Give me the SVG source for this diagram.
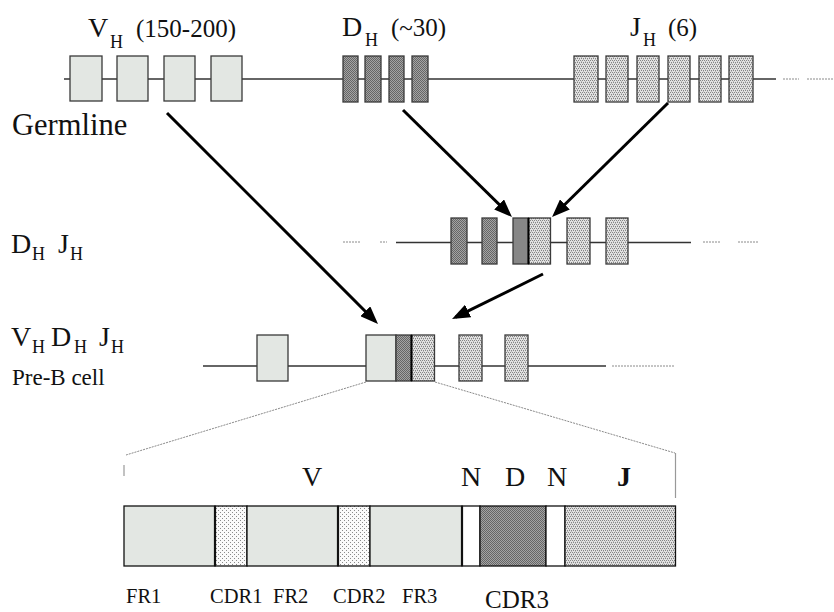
<svg xmlns="http://www.w3.org/2000/svg" width="834" height="612" viewBox="0 0 834 612" font-family="'Liberation Serif', 'DejaVu Serif', serif">
  <style>
    text { font-family: 'Liberation Serif', 'DejaVu Serif', serif; fill: #111; }
    .big { font-size: 28px; }
    .sub { font-size: 18px; }
    .num { font-size: 25px; }
    .lbl { font-size: 20.5px; }
    .spine { stroke: #333; stroke-width: 1.5; fill: none; }
    .dots { stroke: #8a8a8a; stroke-width: 1; stroke-dasharray: 2 1; fill: none; }
    .seg { stroke: #3a3a3a; stroke-width: 1.3; }
    .v { fill: #e3e7e3; }
    .d { fill: url(#pD); }
    .j { fill: url(#pJ); }
    .cdr { fill: url(#pC); }
    .arrow { stroke: #000; stroke-width: 3; fill: none; marker-end: url(#head); }
    .bar { stroke: #111; stroke-width: 1.3; }
    .cut { stroke: #111; stroke-width: 2.2; }
  </style>
  <defs>
    <pattern id="pD" width="2" height="2" patternUnits="userSpaceOnUse">
      <rect width="2" height="2" fill="#a4a4a4"/>
      <rect width="1" height="1" fill="#666"/>
      <rect x="1" y="1" width="1" height="1" fill="#666"/>
    </pattern>
    <pattern id="pJ" width="4" height="4" patternUnits="userSpaceOnUse">
      <rect width="4" height="4" fill="#e2e2e2"/>
      <rect x="0" y="0" width="1" height="1" fill="#858585"/>
      <rect x="2" y="0" width="1" height="1" fill="#858585"/>
      <rect x="1" y="2" width="1" height="1" fill="#858585"/>
      <rect x="3" y="2" width="1" height="1" fill="#858585"/>
      <rect x="1" y="1" width="1" height="1" fill="#b8b8b8"/>
      <rect x="3" y="3" width="1" height="1" fill="#b8b8b8"/>
    </pattern>
    <pattern id="pC" width="4" height="4" patternUnits="userSpaceOnUse">
      <rect width="4" height="4" fill="#fafafa"/>
      <rect width="1" height="1" fill="#8a8a8a"/>
      <rect x="2" y="2" width="1" height="1" fill="#8a8a8a"/>
    </pattern>
    <marker id="head" markerUnits="userSpaceOnUse" markerWidth="18" markerHeight="14" refX="14" refY="7" orient="auto">
      <path d="M0,0 L18,7 L0,14 z" fill="#000"/>
    </marker>
  </defs>

  <!-- Germline locus -->
  <g id="germline">
    <line class="spine" x1="64" y1="79" x2="776" y2="79"/>
    <line class="dots" x1="783" y1="79" x2="799" y2="79"/>
    <line class="dots" x1="807" y1="79" x2="833" y2="79"/>
    <g id="germline-v">
      <rect class="v seg" x="70" y="56" width="32" height="45"/>
      <rect class="v seg" x="117" y="56" width="31" height="45"/>
      <rect class="v seg" x="164" y="56" width="31" height="45"/>
      <rect class="v seg" x="211" y="56" width="31" height="45"/>
    </g>
    <g id="germline-d">
      <rect class="d seg" x="343" y="56" width="15" height="46"/>
      <rect class="d seg" x="365" y="56" width="16" height="46"/>
      <rect class="d seg" x="389" y="56" width="15" height="46"/>
      <rect class="d seg" x="412" y="56" width="16" height="46"/>
    </g>
    <g id="germline-j">
      <rect class="j seg" x="574" y="56" width="24" height="46"/>
      <rect class="j seg" x="606" y="56" width="22" height="46"/>
      <rect class="j seg" x="637" y="56" width="22" height="46"/>
      <rect class="j seg" x="668" y="56" width="22" height="46"/>
      <rect class="j seg" x="699" y="56" width="22" height="46"/>
      <rect class="j seg" x="729" y="56" width="24" height="46"/>
    </g>
    <text class="big" x="88" y="37">V</text><text class="sub" x="110" y="48">H</text>
    <text class="num" x="136" y="37">(150-200)</text>
    <text class="big" x="342" y="36">D</text><text class="sub" x="365" y="46">H</text>
    <text class="num" x="391" y="36">(~30)</text>
    <text class="big" x="630" y="36">J</text><text class="sub" x="643" y="46">H</text>
    <text class="num" x="668" y="36">(6)</text>
    <text x="12" y="135" style="font-size:30.5px">Germline</text>
  </g>

  <!-- D-J joined locus -->
  <g id="dj">
    <line class="dots" x1="343" y1="242" x2="361" y2="242"/>
    <line class="dots" x1="380" y1="242" x2="387" y2="242"/>
    <line class="spine" x1="396" y1="242.5" x2="691" y2="242.5"/>
    <line class="dots" x1="703" y1="242" x2="721" y2="242"/>
    <line class="dots" x1="738" y1="242" x2="758" y2="242"/>
    <rect class="d seg" x="451" y="218" width="16" height="46"/>
    <rect class="d seg" x="482" y="218" width="15" height="46"/>
    <rect class="seg" x="513" y="218" width="15.5" height="46" fill="#878787"/>
    <rect class="j seg" x="528.5" y="218" width="22" height="46"/>
    <line x1="528.5" y1="218" x2="528.5" y2="264" stroke="#000" stroke-width="2"/>
    <rect class="j seg" x="567" y="218" width="23" height="46"/>
    <rect class="j seg" x="606" y="218" width="22" height="46"/>
    <text class="big" x="11" y="253">D</text><text class="sub" x="32" y="260">H</text>
    <text class="big" x="58" y="253">J</text><text class="sub" x="70" y="260">H</text>
  </g>

  <!-- V-D-J joined locus -->
  <g id="vdj">
    <line class="spine" x1="203" y1="366" x2="606" y2="366"/>
    <line class="dots" x1="612" y1="366" x2="674" y2="366"/>
    <rect class="v seg" x="257" y="335" width="31" height="46"/>
    <rect class="v seg" x="366" y="335" width="30" height="46"/>
    <rect class="d seg" x="396" y="335" width="15.5" height="46"/>
    <rect class="j seg" x="411.5" y="335" width="23" height="46"/>
    <line x1="411.5" y1="335" x2="411.5" y2="381" stroke="#000" stroke-width="2"/>
    <rect class="j seg" x="459" y="335" width="23" height="46"/>
    <rect class="j seg" x="505" y="335" width="23" height="46"/>
    <text class="big" x="11" y="346">V</text><text class="sub" x="32" y="353">H</text>
    <text class="big" x="51" y="346">D</text><text class="sub" x="74" y="353">H</text>
    <text class="big" x="99" y="346">J</text><text class="sub" x="111" y="353">H</text>
    <text x="12" y="385" style="font-size:23px">Pre-B cell</text>
  </g>

  <!-- Expanded rearranged segment -->
  <g id="detail">
    <line class="dots" x1="366" y1="382" x2="126" y2="455"/>
    <line class="dots" x1="435" y1="382" x2="675" y2="453"/>
    <line x1="124" y1="465" x2="124" y2="476" stroke="#999" stroke-width="1.2"/>
    <line x1="675.5" y1="453" x2="675.5" y2="498" stroke="#999" stroke-width="1.2"/>
    <rect class="v bar" x="124" y="506" width="91" height="60"/>
    <rect class="cdr bar" x="215" y="506" width="32" height="60"/>
    <rect class="v bar" x="247" y="506" width="91" height="60"/>
    <rect class="cdr bar" x="338" y="506" width="32" height="60"/>
    <rect class="v bar" x="370" y="506" width="92" height="60"/>
    <rect class="bar" x="462" y="506" width="18" height="60" fill="#fff"/>
    <rect class="d bar" x="480" y="506" width="66" height="60"/>
    <rect class="bar" x="546" y="506" width="19" height="60" fill="#fff"/>
    <rect class="j bar" x="565" y="506" width="110.5" height="60"/>
    <line class="cut" x1="215" y1="506" x2="215" y2="566"/>
    <line class="cut" x1="338" y1="506" x2="338" y2="566"/>
    <line class="cut" x1="462" y1="506" x2="462" y2="566"/>
    <text class="big" x="302" y="486">V</text>
    <text class="big" x="461" y="486">N</text>
    <text class="big" x="505" y="486">D</text>
    <text class="big" x="547" y="486">N</text>
    <text class="big" x="617" y="486" font-weight="bold">J</text>
    <text class="lbl" x="126" y="603">FR1</text>
    <text class="lbl" x="210" y="603">CDR1</text>
    <text class="lbl" x="273" y="603">FR2</text>
    <text class="lbl" x="333" y="603">CDR2</text>
    <text class="lbl" x="402" y="603">FR3</text>
    <text class="num" x="485" y="608">CDR3</text>
  </g>

  <!-- Rearrangement arrows -->
  <g id="connectors">
    <line class="arrow" x1="167" y1="113" x2="375.2" y2="321.2"/>
    <line class="arrow" x1="403" y1="110" x2="509.1" y2="214.2"/>
    <line class="arrow" x1="668" y1="103" x2="554.9" y2="214.2"/>
    <line class="arrow" x1="543" y1="274" x2="455.6" y2="317.2"/>
  </g>
</svg>
